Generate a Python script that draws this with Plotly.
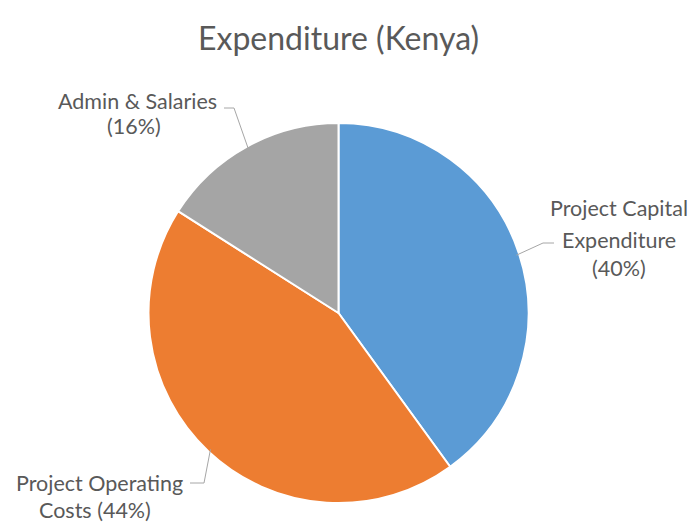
import math
import plotly.graph_objects as go

# ---- data ----
categories = ["Project Capital Expenditure", "Project Operating Costs", "Admin & Salaries"]
values = [40, 44, 16]
colors = ["#5B9BD5", "#ED7D31", "#A5A5A5"]
title_text = "Expenditure (Kenya)"

# ---- layout geometry (pixels) ----
W, H = 692, 523
CX, CY, R = 338.5, 313.0, 190.0
FONT = "Lato, 'Open Sans', sans-serif"
TXT = "#595959"
LINE = "#A6A6A6"

def px(x):
    return x / W

def py(y):
    return 1 - y / H

fig = go.Figure()
fig.add_trace(go.Pie(
    labels=categories, values=values, sort=False, direction="clockwise", rotation=0,
    marker=dict(colors=colors, line=dict(color="white", width=2)),
    textinfo="none", hoverinfo="label+percent", showlegend=False,
    domain=dict(x=[px(CX - R), px(CX + R)], y=[py(CY + R), py(CY - R)]),
))

total = sum(values)
# midpoint angles (clockwise from 12 o'clock)
mids = []
acc = 0
for v in values:
    mids.append((acc + v / 2) / total * 2 * math.pi)
    acc += v

def edge_point(theta, r=R):
    return CX + r * math.sin(theta), CY - r * math.cos(theta)

# label text lines, line centres (x, y) and elbow / end of leader line
label_specs = [
    dict(lines=["Project Capital", "Expenditure", f"({values[0]}%)"],
         xcs=[619, 619, 619], ys=[208, 240, 268], elbow=(543, 243), end=(554, 243)),
    dict(lines=["Project Operating", f"Costs ({values[1]}%)"],
         xcs=[99, 95], ys=[483, 510], elbow=(204, 483), end=(190, 483)),
    dict(lines=["Admin & Salaries", f"({values[2]}%)"],
         xcs=[137.5, 134], ys=[101, 126], elbow=(234, 108), end=(224, 108)),
]

annotations = [dict(text=title_text, x=px(338), y=py(37), xref="paper", yref="paper",
                    showarrow=False, xanchor="center", yanchor="middle",
                    font=dict(family=FONT, size=32, color=TXT))]
shapes = []
for i, spec in enumerate(label_specs):
    for line, xx, yy in zip(spec["lines"], spec["xcs"], spec["ys"]):
        annotations.append(dict(text=line, x=px(xx), y=py(yy), xref="paper", yref="paper",
                                showarrow=False, xanchor="center", yanchor="middle",
                                font=dict(family=FONT, size=21.5, color=TXT)))
    ex, ey = edge_point(mids[i], R - 3)
    pts = [(ex, ey), spec["elbow"], spec["end"]]
    path = "M {} {}".format(px(pts[0][0]), py(pts[0][1]))
    for (a, b) in pts[1:]:
        path += " L {} {}".format(px(a), py(b))
    shapes.append(dict(type="path", path=path, xref="paper", yref="paper",
                       line=dict(color=LINE, width=1)))

fig.update_layout(
    width=W, height=H, margin=dict(l=0, r=0, t=0, b=0),
    paper_bgcolor="white", plot_bgcolor="white",
    annotations=annotations, shapes=shapes,
)
fig.write_html("out.html", config={"displayModeBar": False},
               post_script="document.body.style.margin='0';")
